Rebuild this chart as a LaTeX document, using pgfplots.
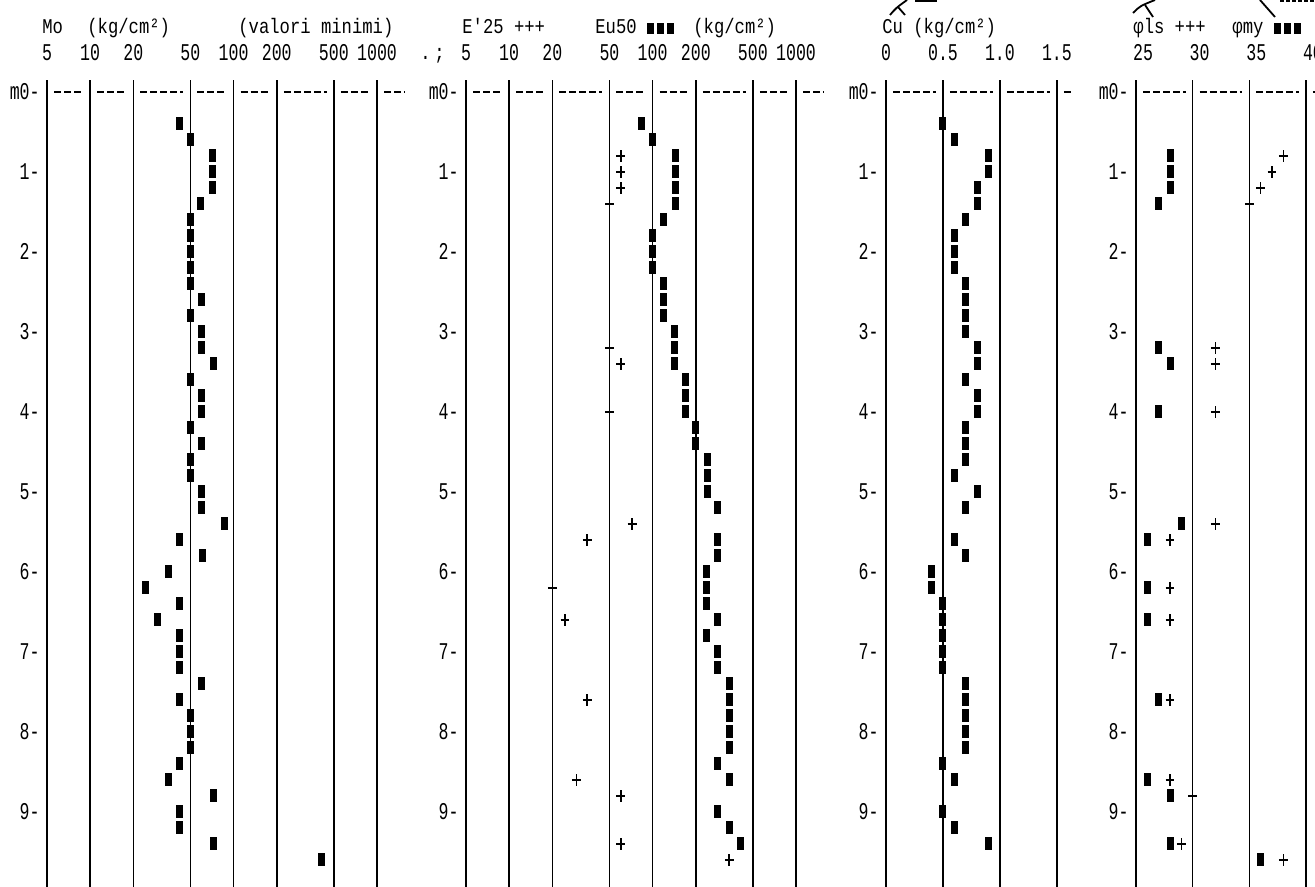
\documentclass[border=0pt]{standalone}
\usepackage{fontspec}
\usepackage{pgfplots}
\pgfplotsset{compat=1.18}
\newfontfamily\tickfont{Liberation Mono}[FakeStretch=0.69]
\newfontfamily\titlefont{Liberation Mono}[FakeStretch=0.82]

% printer marks: filled block and plus
\pgfdeclareplotmark{blk}{\pgfpathrectangle{\pgfpoint{-1.75pt}{-3.25pt}}{\pgfpoint{3.5pt}{6.5pt}}\pgfusepathqfill}
\pgfdeclareplotmark{crs}{%
  \pgfpathmoveto{\pgfpoint{-2.2pt}{0pt}}\pgfpathlineto{\pgfpoint{2.2pt}{0pt}}%
  \pgfpathmoveto{\pgfpoint{0pt}{-3pt}}\pgfpathlineto{\pgfpoint{0pt}{3pt}}%
  \pgfusepathqstroke}

\tikzset{
  dr/.style={line width=1.2pt, dash pattern=on 3.5pt off 1.5pt},
  ttl/.style={anchor=base west, inner sep=0pt, font=\fontsize{10.5pt}{10.5pt}\titlefont},
}
\newcommand\seg[2]{\draw[dr] ([xshift=3.5pt]axis cs:#1,0) -- ([xshift=-3.5pt]axis cs:#2,0);}
\newcommand\blocks{\rule{3.4pt}{5.6pt}\hspace{1.6pt}\rule{3.4pt}{5.6pt}\hspace{1.6pt}\rule{3.4pt}{5.6pt}}

\pgfplotsset{
  panel/.style={
    anchor=north west, scale only axis, height=403.5pt,
    ymin=-0.15, ymax=9.94, y dir=reverse,
    axis line style={draw=none},
    ytick={0,1,...,9}, yticklabels={m0-,1-,2-,3-,4-,5-,6-,7-,8-,9-},
    major tick length=0pt,
    xticklabel pos=upper,
    xmajorgrids, grid style={black, line width=0.8pt},
    tick label style={font=\fontsize{12pt}{12pt}\tickfont, inner sep=0pt},
    xticklabel style={anchor=base, yshift=10pt},
    yticklabel style={anchor=east, xshift=-3.5pt},
    clip=false,
  },
  blkplot/.style={only marks, mark=blk, black},
  crsplot/.style={only marks, mark=crs, black, mark options={line width=0.8pt}},
}

\begin{document}
\begin{tikzpicture}
\useasboundingbox (0,0) rectangle (657.5pt,-443.5pt);
\clip (0,0) rectangle (657.5pt,-443.5pt);

% ---------- Mo ----------
\begin{axis}[panel, at={(23.5pt,-40pt)}, width=179pt,
  xmode=log, xmin=5, xmax=1567,
  xtick={5,10,20,50,100,200,500,1000},
  xticklabels={5,10,20,50,100,200,500,1000}]
\seg{5}{10}\seg{10}{20}\seg{20}{50}\seg{50}{100}\seg{100}{200}\seg{200}{500}\seg{500}{1000}
\draw[dr] ([xshift=3.5pt]axis cs:1000,0) -- (axis cs:1567,0);
\addplot[blkplot] coordinates {
(41.7,0.4) (50,0.6) (71,0.8) (71,1.0) (71,1.2) (59,1.4) (50,1.6) (50,1.8)
(50,2.0) (50,2.2) (50,2.4) (60,2.6) (50,2.8) (60,3.0) (60,3.2) (72,3.4)
(50,3.6) (60,3.8) (60,4.0) (50,4.2) (60,4.4) (50,4.6) (50,4.8) (60,5.0)
(60,5.2) (87,5.4) (42,5.6) (61,5.8) (35,6.0) (24.5,6.2) (42,6.4) (29.5,6.6)
(42,6.8) (42,7.0) (42,7.2) (60,7.4) (42,7.6) (50,7.8) (50,8.0) (50,8.2)
(42,8.4) (35,8.6) (72,8.8) (42,9.0) (42,9.2) (72,9.4) (413,9.6)};
\end{axis}

% ---------- E'25 / Eu50 ----------
\begin{axis}[panel, at={(233pt,-40pt)}, width=179pt,
  xmode=log, xmin=5, xmax=1567,
  xtick={5,10,20,50,100,200,500,1000},
  xticklabels={5,10,20,50,100,200,500,1000}]
\seg{5}{10}\seg{10}{20}\seg{20}{50}\seg{50}{100}\seg{100}{200}\seg{200}{500}\seg{500}{1000}
\draw[dr] ([xshift=3.5pt]axis cs:1000,0) -- (axis cs:1567,0);
% Eu50
\addplot[blkplot] coordinates {
(84,0.4) (100,0.6) (144,0.8) (144,1.0) (144,1.2) (144,1.4) (120,1.6) (100,1.8)
(100,2.0) (100,2.2) (120,2.4) (120,2.6) (120,2.8) (143,3.0) (143,3.2) (143,3.4)
(170,3.6) (170,3.8) (170,4.0) (200,4.2) (200,4.4) (240,4.6) (240,4.8) (240,5.0)
(283,5.2) (283,5.6) (283,5.8) (237,6.0) (237,6.2) (237,6.4) (284,6.6) (237,6.8)
(284,7.0) (284,7.2) (342,7.4) (342,7.6) (342,7.8) (342,8.0) (342,8.2) (283,8.4)
(342,8.6) (283,9.0) (342,9.2) (408,9.4)};
% E'25
\addplot[crsplot] coordinates {
(60,0.8) (60,1.0) (60,1.2) (50,1.4) (50,3.2) (60,3.4) (50,4.0) (72,5.4)
(35,5.6) (20,6.2) (24.5,6.6) (35,7.6) (29.4,8.6) (60,8.8) (60,9.4) (342,9.6)};
\end{axis}

% ---------- Cu ----------
\begin{axis}[panel, at={(443pt,-40pt)}, width=92.3pt,
  xmin=0, xmax=1.62,
  xtick={0,0.5,1,1.5}, xticklabels={0,0.5,1.0,1.5}]
\seg{0}{0.5}\seg{0.5}{1}\seg{1}{1.5}
\draw[dr] ([xshift=3.5pt]axis cs:1.5,0) -- (axis cs:1.62,0);
\addplot[blkplot] coordinates {
(0.5,0.4) (0.6,0.6) (0.9,0.8) (0.9,1.0) (0.8,1.2) (0.8,1.4) (0.7,1.6) (0.6,1.8)
(0.6,2.0) (0.6,2.2) (0.7,2.4) (0.7,2.6) (0.7,2.8) (0.7,3.0) (0.8,3.2) (0.8,3.4)
(0.7,3.6) (0.8,3.8) (0.8,4.0) (0.7,4.2) (0.7,4.4) (0.7,4.6) (0.6,4.8) (0.8,5.0)
(0.7,5.2) (0.6,5.6) (0.7,5.8) (0.4,6.0) (0.4,6.2) (0.5,6.4) (0.5,6.6) (0.5,6.8)
(0.5,7.0) (0.5,7.2) (0.7,7.4) (0.7,7.6) (0.7,7.8) (0.7,8.0) (0.7,8.2) (0.5,8.4)
(0.6,8.6) (0.5,9.0) (0.6,9.2) (0.9,9.4)};
\end{axis}

% ---------- phi ----------
\begin{axis}[panel, at={(568pt,-40pt)}, width=96.3pt,
  xmin=25, xmax=42,
  xtick={25,30,35,40}, xticklabels={25,30,35,40},
  xticklabel style={xshift=3.5pt}]
\seg{25}{30}\seg{30}{35}\seg{35}{40}
\draw[dr] ([xshift=3.5pt]axis cs:40,0) -- (axis cs:42,0);
% phi my
\addplot[blkplot] coordinates {
(28,0.8) (28,1.0) (28,1.2) (27,1.4) (27,3.2) (28,3.4) (27,4.0) (29,5.4)
(26,5.6) (26,6.2) (26,6.6) (27,7.6) (26,8.6) (28,8.8) (28,9.4) (36,9.6)};
% phi ls
\addplot[crsplot] coordinates {
(38,0.8) (37,1.0) (36,1.2) (35,1.4) (32,3.2) (32,3.4) (32,4.0) (32,5.4)
(28,5.6) (28,6.2) (28,6.6) (28,7.6) (28,8.6) (30,8.8) (29,9.4) (38,9.6)};
\end{axis}

% ---------- header text ----------
\node[ttl] at (21pt,-17pt) {Mo};
\node[ttl] at (43.5pt,-17pt) {(kg/cm²)};
\node[ttl] at (119pt,-17pt) {(valori minimi)};
\node[ttl] at (231pt,-17pt) {E'25 +++};
\node[ttl] at (297.5pt,-17pt) {Eu50 \blocks};
\node[ttl] at (346.5pt,-17pt) {(kg/cm²)};
\node[ttl] at (441pt,-17pt) {Cu (kg/cm²)};
\node[ttl] at (566.5pt,-17pt) {φls +++};
\node[ttl] at (616pt,-17pt) {φmy \blocks};
\node[ttl] at (210pt,-30pt) {.};
\node[ttl] at (217pt,-30pt) {;};

% pen marks on the scan
\draw[line width=0.9pt] (445pt,-7.5pt) .. controls (448pt,-4pt) .. (453.5pt,0pt);
\draw[line width=0.9pt] (449pt,-3.5pt) -- (452.5pt,-7.5pt);
\draw[line width=0.9pt] (457.5pt,-0.6pt) -- (468.5pt,-0.6pt);
\draw[line width=0.9pt] (566.5pt,-6.5pt) .. controls (570pt,-3pt) .. (577.5pt,0pt);
\draw[line width=0.9pt] (572.5pt,-2.5pt) -- (576.5pt,-8.5pt);
\draw[line width=0.9pt] (630pt,0pt) -- (637.5pt,-8.5pt);
\draw[line width=0.6pt, dash pattern=on 2pt off 1pt] (640pt,-0.5pt) -- (657.5pt,-0.5pt);
\end{tikzpicture}
\end{document}
